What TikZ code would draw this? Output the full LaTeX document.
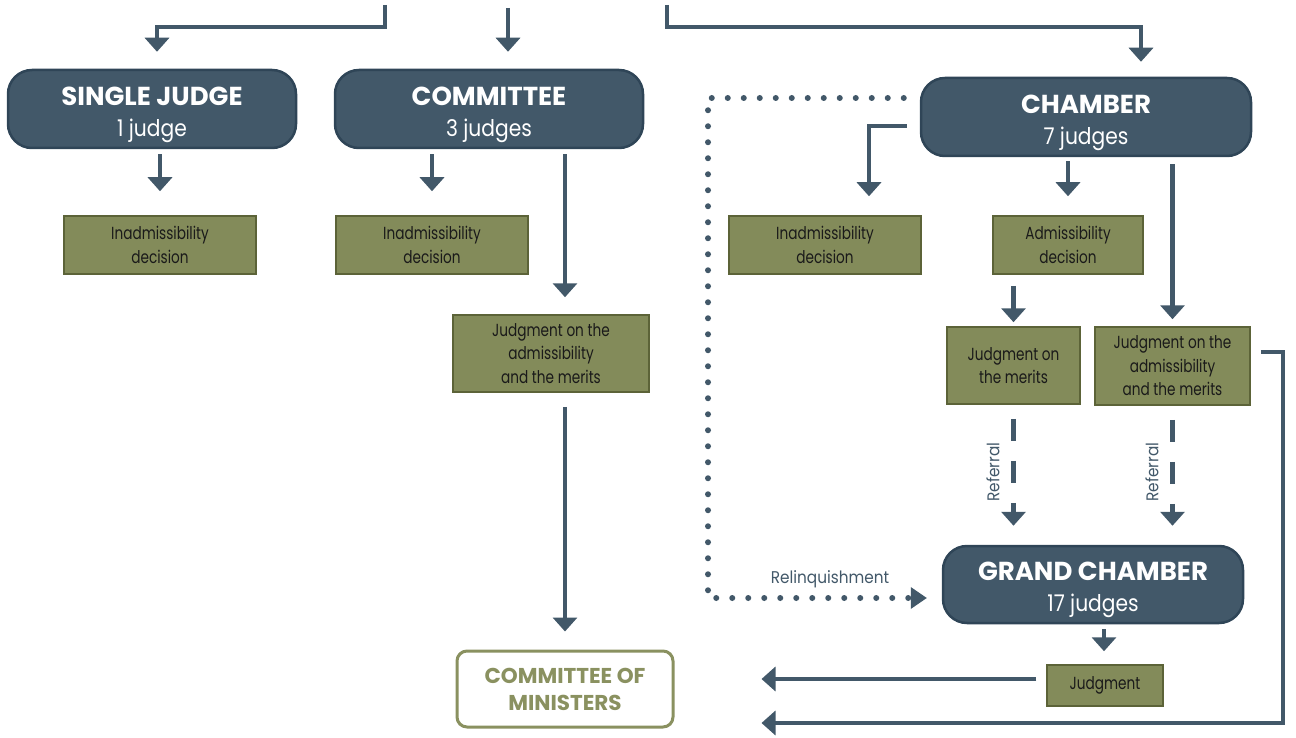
\documentclass[tikz,border=0pt]{standalone}
\usepackage{fontspec}
\usetikzlibrary{arrows.meta,calc}
\newfontfamily\bodyf{Poppins}[FakeStretch=0.78]
\newfontfamily\lblf{Poppins}[FakeStretch=0.9]
\newfontfamily\numf{Poppins}[FakeStretch=0.88]
\newfontfamily\headf{Poppins}[FakeStretch=1.0]
\definecolor{slate}{HTML}{425869}
\definecolor{slateb}{HTML}{2F4557}
\definecolor{olive}{HTML}{838B5A}
\definecolor{oliveb}{HTML}{5C6338}
\definecolor{comc}{HTML}{8A9160}
\definecolor{txt}{HTML}{1A1A1A}
\newcommand{\courttxt}[2]{{\rule{0pt}{30pt}\headf\bfseries\fontsize{26}{31}\selectfont #1}\\{\numf\fontsize{23}{31}\selectfont #2}}
\begin{document}
\begin{tikzpicture}[x=1pt,y=-1pt,
  court/.style={draw=slateb,line width=2.5pt,fill=slate,rounded corners=24pt,
    text=white,align=center,inner sep=0pt,font=\fontsize{26}{31}\selectfont},
  dec/.style={draw=oliveb,line width=1.5pt,fill=olive,text=txt,align=center,
    inner sep=0pt,font=\bodyf\fontsize{17.5}{23.5}\selectfont},
  arr/.style={draw=slate,line width=4.5pt,-{Triangle[width=24pt,length=14pt]}},
  dsh/.style={arr,dash pattern=on 22pt off 20pt},
  lbl/.style={text=slate,font=\lblf\fontsize{17}{20}\selectfont,inner sep=0pt}]
\useasboundingbox (0,0) rectangle (1296,738);

% courts
\node[court,minimum width=288pt,minimum height=78pt] (sj) at (152,109)
  {\courttxt{SINGLE JUDGE}{1 judge}};
\node[court,minimum width=308pt,minimum height=78pt] (cm) at (489,109)
  {\courttxt{COMMITTEE}{3 judges}};
\node[court,minimum width=330pt,minimum height=78pt] (ch) at (1086,117)
  {\courttxt{CHAMBER}{7 judges}};
\node[court,minimum width=300pt,minimum height=77pt] (gc) at (1093,584.5)
  {\courttxt{GRAND CHAMBER}{17 judges}};

% decisions
\node[dec,minimum width=192pt,minimum height=58pt] (in1) at (160,245) {Inadmissibility\\decision};
\node[dec,minimum width=192pt,minimum height=58pt] (in2) at (432,245) {Inadmissibility\\decision};
\node[dec,minimum width=192pt,minimum height=58pt] (in3) at (825,245) {Inadmissibility\\decision};
\node[dec,minimum width=150pt,minimum height=58pt] (adm) at (1068,245) {Admissibility\\decision};
\node[dec,minimum width=196pt,minimum height=77pt] (jam1) at (551,353.5) {Judgment on the\\admissibility\\and the merits};
\node[dec,minimum width=133pt,minimum height=77pt] (jm) at (1013.5,365.5) {Judgment on\\the merits};
\node[dec,minimum width=155pt,minimum height=78pt] (jam2) at (1172.5,366) {Judgment on the\\admissibility\\and the merits};
\node[dec,minimum width=116pt,minimum height=41pt] (jdg) at (1105,685.5) {Judgment};

\node[draw=comc,line width=3pt,fill=white,rounded corners=10pt,text=comc,align=center,
  minimum width=216pt,minimum height=76pt,inner sep=0pt,
  font=\headf\bfseries\fontsize{21.5}{27}\selectfont] (com) at (565,689) {COMMITTEE OF\\MINISTERS};

% entry arrows
\coordinate (s1) at (385,5);
\coordinate (s2) at (508,8);
\coordinate (s3) at (667,5);
\draw[arr,shorten >=17pt] (s1) -- ++(0,22) -| ([xshift=5pt]sj.north);
\draw[arr,shorten >=17pt] (s2) -- (s2 |- cm.north);
\draw[arr,shorten >=15pt] (s3) -- ++(0,22) -| ([xshift=55pt]ch.north);

% single judge / committee
\draw[arr,shorten <=5pt,shorten >=24pt] (sj.south -| in1.north) -- (in1.north);
\draw[arr,shorten <=5pt,shorten >=24pt] (cm.south -| in2.north) -- (in2.north);
\draw[arr,shorten <=5pt,shorten >=17pt] (cm.south -| com.north) -- (jam1.north -| com.north);
\draw[arr,shorten <=14pt,shorten >=18pt] (jam1.south -| com.north) -- (com.north);

% chamber
\draw[arr,shorten >=19pt] ([xshift=-13pt,yshift=-9pt]ch.west) -| ([xshift=44pt]in3.north);
\draw[arr,shorten <=4pt,shorten >=19pt] (ch.south -| adm.north) -- (adm.north);
\draw[arr,shorten <=7pt,shorten >=7pt] (ch.south -| jam2.north) -- (jam2.north);
\draw[arr,shorten <=11pt,shorten >=4pt] (adm.south -| jm.north) -- (jm.north);

% referrals
\draw[dsh,shorten <=14pt,shorten >=19pt] (jm.south) -- (gc.north -| jm.south);
\draw[dsh,shorten <=14pt,shorten >=19pt] (jam2.south) -- (gc.north -| jam2.south);
\node[lbl,rotate=90] at (993,472) {Referral};
\node[lbl,rotate=90] at (1152,472) {Referral};

% relinquishment
\coordinate (r0) at ([xshift=-16pt,yshift=19pt]ch.west);
\coordinate (rt) at ([xshift=-15pt,yshift=-13.5pt]gc.west);
\draw[slate,line width=6pt,line cap=round,dash pattern=on 0pt off 16pt]
  (r0) -- (r0 -| 708,0) -- (708,0 |- rt) -- ([xshift=-12pt]rt);
\fill[slate] (rt) -- ++(-16,-11) -- ++(0,22) -- cycle;
\node[lbl] at (830,579) {Relinquishment};

% grand chamber
\draw[arr,shorten <=5pt,shorten >=13pt] (gc.south -| 1104,0) -- (jdg.north -| 1104,0);
\draw[arr,shorten <=10pt,shorten >=87pt] ([yshift=6.5pt]jdg.west) -- ([yshift=6.5pt]jdg.west -| com.east);
\draw[arr,shorten <=10pt,shorten >=87pt] ([yshift=14pt]jam2.east) -- ++(32,0) |- ([yshift=-34pt]com.east);
\end{tikzpicture}
\end{document}
